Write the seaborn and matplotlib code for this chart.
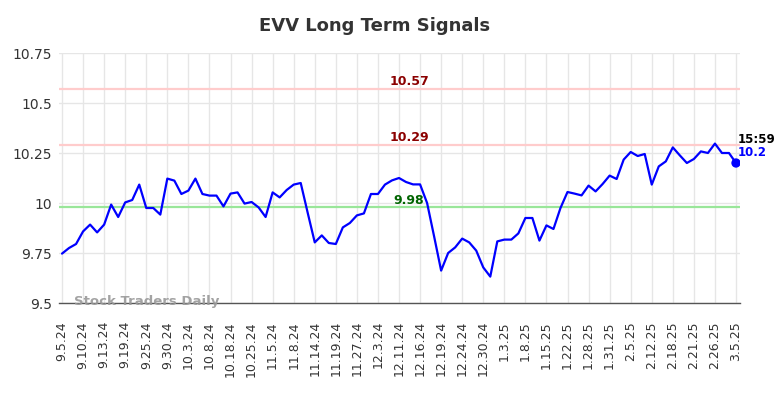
import numpy as np
import pandas as pd
import matplotlib
matplotlib.use("Agg")
import matplotlib.pyplot as plt
import seaborn as sns

# ---- data ----
prices = [
    9.747, 9.775, 9.795, 9.858, 9.892, 9.853, 9.892, 9.992, 9.930, 10.003,
    10.015, 10.092, 9.975, 9.975, 9.942, 10.122, 10.112, 10.045, 10.062, 10.122,
    10.045, 10.037, 10.037, 9.983, 10.047, 10.053, 9.997, 10.005, 9.978, 9.930,
    10.053, 10.028, 10.065, 10.092, 10.100, 9.950, 9.803, 9.838, 9.800, 9.795,
    9.878, 9.900, 9.938, 9.948, 10.045, 10.045, 10.092, 10.113, 10.125, 10.105,
    10.093, 10.093, 10.000, 9.833, 9.662, 9.750, 9.778, 9.822, 9.803, 9.762,
    9.678, 9.632, 9.808, 9.817, 9.817, 9.848, 9.925, 9.925, 9.812, 9.888,
    9.870, 9.975, 10.055, 10.047, 10.038, 10.087, 10.058, 10.095, 10.137, 10.120,
    10.217, 10.255, 10.235, 10.245, 10.092, 10.183, 10.208, 10.278, 10.238, 10.200,
    10.220, 10.258, 10.250, 10.297, 10.250, 10.250, 10.200,
]
tick_labels = [
    "9.5.24", "9.10.24", "9.13.24", "9.19.24", "9.25.24", "9.30.24", "10.3.24",
    "10.8.24", "10.18.24", "10.25.24", "11.5.24", "11.8.24", "11.14.24",
    "11.19.24", "11.27.24", "12.3.24", "12.11.24", "12.16.24", "12.19.24",
    "12.24.24", "12.30.24", "1.3.25", "1.8.25", "1.15.25", "1.22.25", "1.28.25",
    "1.31.25", "2.5.25", "2.12.25", "2.18.25", "2.21.25", "2.26.25", "3.5.25",
]
y_ticks = [9.5, 9.75, 10.0, 10.25, 10.5, 10.75]
y_tick_labels = ["9.5", "9.75", "10", "10.25", "10.5", "10.75"]
resistance_levels = [10.57, 10.29]
support_levels = [9.98]
last_time = "15:59"
last_value = 10.2
title = "EVV Long Term Signals"
watermark = "Stock Traders Daily"

sns.set_style("whitegrid")
plt.rcParams['font.family'] = ['DejaVu Sans']

W, H = 784, 398
fig = plt.figure(figsize=(W / 100, H / 100), dpi=100)
ax_l, ax_r, ax_t, ax_b = 59, 740, 53, 303
ax = fig.add_axes([ax_l / W, 1 - ax_b / H, (ax_r - ax_l) / W, (ax_b - ax_t) / H])

df = pd.DataFrame({"idx": np.arange(len(prices)), "price": prices})

for lvl in resistance_levels:
    ax.axhline(lvl, color="#ffcccc", lw=1.6, zorder=1)
    ax.annotate(f"{lvl:.2f}", xy=(0.514, lvl), xycoords=ax.get_yaxis_transform(),
                xytext=(0, 3), textcoords="offset points", ha="center", va="baseline",
                fontsize=9, fontweight="bold", color="#8b0000")
for lvl in support_levels:
    ax.axhline(lvl, color="#99e699", lw=1.6, zorder=1)
    ax.annotate(f"{lvl:.2f}", xy=(0.514, lvl), xycoords=ax.get_yaxis_transform(),
                xytext=(0, 2.5), textcoords="offset points", ha="center", va="baseline",
                fontsize=9, fontweight="bold", color="#006400")

sns.lineplot(data=df, x="idx", y="price", ax=ax, color="#0000ff", linewidth=1.6, zorder=3)
last = df.iloc[[-1]]
sns.scatterplot(data=last, x="idx", y="price", ax=ax, color="#0000ff", s=45,
                edgecolor="none", zorder=4)

xi = df["idx"].iloc[-1]
ax.annotate(last_time, xy=(xi, last_value), xytext=(1, 14.5), textcoords="offset points",
            ha="left", va="baseline", fontsize=8.5, fontweight="bold", color="black")
ax.annotate(f"{last_value:g}", xy=(xi, last_value), xytext=(1, 5), textcoords="offset points",
            ha="left", va="baseline", fontsize=8.5, fontweight="bold", color="#0000ff")

ax.text(0.022, 0.004, watermark, transform=ax.transAxes, ha="left", va="center",
        fontsize=9.5, fontweight="bold", color="#999999", alpha=0.9, zorder=5)

ax.set_xlim(-0.43, 96.57)
ax.set_ylim(9.5, 10.75)
ax.set_xticks(range(0, len(prices), 3))
ax.set_xticklabels(tick_labels, rotation=90, fontsize=9, color="#333333")
ax.set_yticks(y_ticks)
ax.set_yticklabels(y_tick_labels, fontsize=10, color="#333333")
ax.tick_params(axis="x", length=0, pad=13)
ax.tick_params(axis="y", length=0, pad=5)
ax.set_xlabel("")
ax.set_ylabel("")
ax.grid(True, color="#e6e6e6", linewidth=1)
for s in ["left", "top", "right"]:
    ax.spines[s].set_visible(False)
ax.spines["bottom"].set_color("#555555")
ax.spines["bottom"].set_linewidth(1)

fig.text(375 / W, 1 - 26 / H, title, ha="center", va="center", fontsize=13,
         fontweight="bold", color="#333333")

fig.savefig("out.png", dpi=100)
